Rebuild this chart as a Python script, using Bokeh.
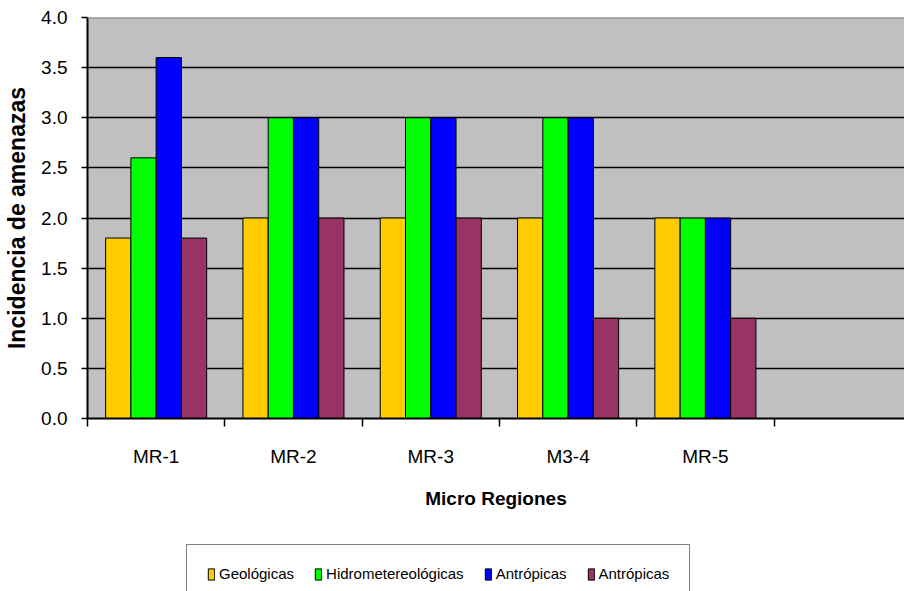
import numpy as np
from bokeh.plotting import figure
from bokeh.layouts import column
from bokeh.models import (Range1d, FixedTicker, Legend, LegendItem, Span,
                          NumeralTickFormatter, ColumnDataSource)
from bokeh.embed import file_html
from bokeh.resources import INLINE

# ---- data ----
regions = ["MR-1", "MR-2", "MR-3", "M3-4", "MR-5"]
series_names = ["Geológicas", "Hidrometereológicas", "Antrópicas", "Antrópicas"]
geologicas = [1.8, 2.0, 2.0, 2.0, 2.0]
hidromet = [2.6, 3.0, 3.0, 3.0, 2.0]
antropicas_a = [3.6, 3.0, 3.0, 3.0, 2.0]
antropicas_b = [1.8, 2.0, 2.0, 1.0, 1.0]
y_ticks = [0.0, 0.5, 1.0, 1.5, 2.0, 2.5, 3.0, 3.5, 4.0]

colors = ["#FFCC00", "#00FF00", "#0000FF", "#993366"]
series = [geologicas, hidromet, antropicas_a, antropicas_b]

FONT = "Liberation Sans"
n = len(regions)
slots = n + 1          # one empty category slot on the right
centers = np.arange(n) + 0.5
bar_w = 0.184

W = 904
H_MAIN = 530
H_LEG = 61

p = figure(width=W, height=H_MAIN, output_backend="svg", toolbar_location=None,
           x_range=Range1d(0, 5.95), y_range=Range1d(0, 4.0),
           min_border_left=87, min_border_right=0, min_border_top=17,
           min_border_bottom=112,
           background_fill_color="#C0C0C0", border_fill_color="white",
           outline_line_color=None)

sources = []
for i, (vals, col) in enumerate(zip(series, colors)):
    off = (i - 1.5) * bar_w
    src = ColumnDataSource(dict(x=centers + off, top=vals))
    sources.append(src)
    p.vbar(x="x", top="top", width=bar_w, bottom=0, source=src,
           fill_color=col, line_color="black", line_width=1)

# top border of plot area
p.add_layout(Span(location=4.0, dimension="width", line_color="#808080",
                  line_width=2))

# grid
p.xgrid.visible = False
p.ygrid.ticker = FixedTicker(ticks=y_ticks[1:-1])
p.ygrid.grid_line_color = "black"
p.ygrid.grid_line_width = 1.5

# y axis
ya = p.yaxis[0]
ya.ticker = FixedTicker(ticks=y_ticks)
ya.formatter = NumeralTickFormatter(format="0.0")
ya.axis_label = "Incidencia de amenazas"
ya.axis_label_text_font = FONT
ya.axis_label_text_font_style = "bold"
ya.axis_label_text_font_size = "23px"
ya.axis_label_text_color = "black"
ya.axis_label_standoff = 8
ya.major_label_text_font = FONT
ya.major_label_text_font_size = "19px"
ya.major_label_text_color = "black"
ya.major_label_standoff = 14
ya.major_tick_out = 6
ya.major_tick_in = 0
ya.minor_tick_out = 0
ya.minor_tick_in = 0
ya.axis_line_color = "black"
ya.axis_line_width = 2
ya.major_tick_line_color = "black"
ya.major_tick_line_width = 1.5

# x axis
xa = p.xaxis[0]
xa.ticker = FixedTicker(ticks=list(centers), minor_ticks=list(range(slots)))
xa.major_label_overrides = {float(c): lab for c, lab in zip(centers, regions)}
xa.axis_label = "Micro Regiones"
xa.axis_label_text_font = FONT
xa.axis_label_text_font_style = "bold"
xa.axis_label_text_font_size = "19px"
xa.axis_label_text_color = "black"
xa.axis_label_standoff = 18
xa.major_label_text_font = FONT
xa.major_label_text_font_size = "19px"
xa.major_label_text_color = "black"
xa.major_label_standoff = 19
xa.major_tick_out = 0
xa.major_tick_in = 0
xa.minor_tick_out = 8
xa.minor_tick_in = 0
xa.minor_tick_line_color = "black"
xa.minor_tick_line_width = 1.5
xa.axis_line_color = "black"
xa.axis_line_width = 2

# ---- legend strip (separate figure so the legend is not clipped) ----
pl = figure(width=W, height=H_LEG, output_backend="svg", toolbar_location=None,
            x_range=Range1d(0, 1), y_range=Range1d(0, 1),
            x_axis_type=None, y_axis_type=None,
            min_border=0, outline_line_color=None,
            background_fill_color="white", border_fill_color="white")
pl.grid.visible = False
leg_renderers = []
for src, col in zip(sources, colors):
    r = pl.vbar(x="x", top="top", width=bar_w, bottom=0, source=src,
                fill_color=col, line_color="black", line_width=1,
                visible=False)
    leg_renderers.append(r)

items = [LegendItem(label=name, renderers=[r])
         for name, r in zip(series_names, leg_renderers)]
legend = Legend(items=items, orientation="horizontal", location=(99, -12),
                label_text_font=FONT, label_text_font_size="15px",
                label_text_color="black", label_height=16, label_standoff=4,
                glyph_width=8, glyph_height=14, spacing=20, padding=20,
                margin=0, border_line_color="black", border_line_width=1,
                background_fill_color="white", background_fill_alpha=1.0)
pl.add_layout(legend, "center")

layout = column(p, pl, spacing=0)
open("out.html", "w").write(file_html(layout, INLINE))
